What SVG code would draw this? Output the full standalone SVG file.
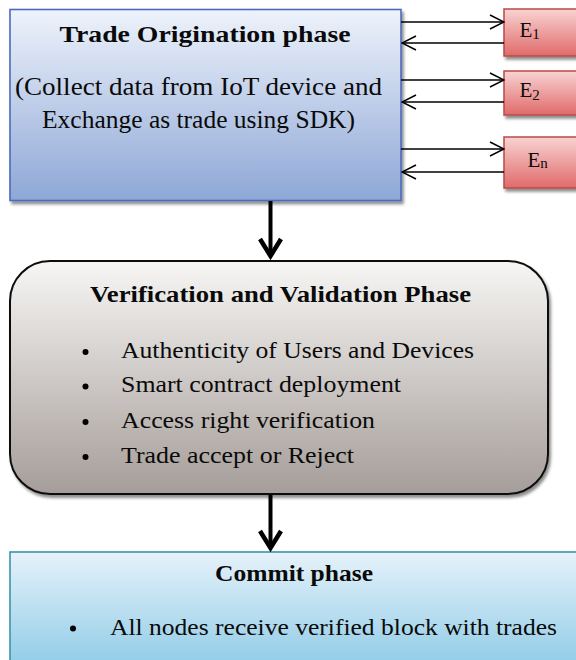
<svg xmlns="http://www.w3.org/2000/svg" width="576" height="660" viewBox="0 0 576 660" font-family="'Liberation Serif', 'Times New Roman', serif">
  <defs>
    <linearGradient id="gBlue" x1="0" y1="0" x2="0" y2="1">
      <stop offset="0" stop-color="#eef3fb"/>
      <stop offset="1" stop-color="#8ea7d6"/>
    </linearGradient>
    <linearGradient id="gGray" x1="0" y1="0" x2="0" y2="1">
      <stop offset="0" stop-color="#f7f6f4"/>
      <stop offset="1" stop-color="#a59d99"/>
    </linearGradient>
    <linearGradient id="gCyan" x1="0" y1="0" x2="0" y2="1">
      <stop offset="0" stop-color="#e6f2fa"/>
      <stop offset="1" stop-color="#8ccae6"/>
    </linearGradient>
    <linearGradient id="gRed" x1="0" y1="0" x2="0" y2="1">
      <stop offset="0" stop-color="#f9d3d3"/>
      <stop offset="1" stop-color="#e06a6a"/>
    </linearGradient>
    <filter id="shadow" x="-10%" y="-10%" width="125%" height="130%">
      <feGaussianBlur in="SourceAlpha" stdDeviation="1.5"/>
      <feOffset dx="1.5" dy="2.5" result="b"/>
      <feComponentTransfer><feFuncA type="linear" slope="0.45"/></feComponentTransfer>
      <feMerge><feMergeNode/><feMergeNode in="SourceGraphic"/></feMerge>
    </filter>
    <marker id="open" viewBox="0 0 16 16" refX="15" refY="8" markerWidth="16" markerHeight="16" markerUnits="userSpaceOnUse" orient="auto">
      <path d="M1,1 L15,8 L1,15" fill="none" stroke="#000" stroke-width="1.5"/>
    </marker>
  </defs>
  <style>
    text { fill: #0a0a0a; }
    .link { stroke: #000; stroke-width: 1.6; fill: none; }
    .flow { stroke: #000; stroke-width: 4; fill: none; }
    .head { stroke: #000; stroke-width: 4.5; fill: none; stroke-linejoin: miter; }
  </style>

  <rect width="576" height="660" fill="#ffffff"/>

  <!-- Trade origination -->
  <g id="origination">
    <rect x="10" y="9.5" width="391" height="191" fill="url(#gBlue)" stroke="#4a6bbd" stroke-width="1.6" filter="url(#shadow)"/>
    <text x="205" y="42" font-size="24" font-weight="bold" text-anchor="middle" textLength="291" lengthAdjust="spacingAndGlyphs">Trade Origination phase</text>
    <text x="198.5" y="95" font-size="25" text-anchor="middle" textLength="367" lengthAdjust="spacingAndGlyphs">(Collect data from IoT device and</text>
    <text x="198.5" y="128" font-size="25" text-anchor="middle" textLength="313" lengthAdjust="spacingAndGlyphs">Exchange as trade using SDK)</text>
  </g>

  <!-- Exchange nodes -->
  <g id="e1">
    <rect x="504" y="9" width="80" height="47" fill="url(#gRed)" stroke="#b94a48" stroke-width="1.5" filter="url(#shadow)"/>
    <text x="519.5" y="37" font-size="21">E<tspan font-size="15" dy="2">1</tspan></text>
  </g>
  <g id="e2">
    <rect x="504" y="71" width="80" height="44" fill="url(#gRed)" stroke="#b94a48" stroke-width="1.5" filter="url(#shadow)"/>
    <text x="519.5" y="97" font-size="21">E<tspan font-size="15" dy="2.5">2</tspan></text>
  </g>
  <g id="en">
    <rect x="504" y="137" width="80" height="51" fill="url(#gRed)" stroke="#b94a48" stroke-width="1.5" filter="url(#shadow)"/>
    <text x="527.5" y="167" font-size="21">E<tspan font-size="15" dy="1">n</tspan></text>
  </g>

  <!-- Verification and validation -->
  <g id="verification">
    <rect x="10" y="261" width="538" height="233" rx="40" ry="40" fill="url(#gGray)" stroke="#111" stroke-width="2" filter="url(#shadow)"/>
    <text x="280.5" y="302" font-size="24" font-weight="bold" text-anchor="middle" textLength="381" lengthAdjust="spacingAndGlyphs">Verification and Validation Phase</text>
    <circle cx="85.5" cy="352" r="3"/>
    <circle cx="85.5" cy="386.5" r="3"/>
    <circle cx="85.5" cy="422" r="3"/>
    <circle cx="85.5" cy="457" r="3"/>
    <text x="121" y="358" font-size="24" textLength="353" lengthAdjust="spacingAndGlyphs">Authenticity of Users and Devices</text>
    <text x="121" y="392" font-size="24" textLength="280" lengthAdjust="spacingAndGlyphs">Smart contract deployment</text>
    <text x="121" y="428" font-size="24" textLength="254" lengthAdjust="spacingAndGlyphs">Access right verification</text>
    <text x="121" y="463" font-size="24" textLength="233" lengthAdjust="spacingAndGlyphs">Trade accept or Reject</text>
  </g>

  <!-- Commit -->
  <g id="commit">
    <rect x="10" y="552" width="580" height="120" fill="url(#gCyan)" stroke="#3a95a8" stroke-width="1.6"/>
    <text x="294" y="581" font-size="24" font-weight="bold" text-anchor="middle" textLength="158" lengthAdjust="spacingAndGlyphs">Commit phase</text>
    <circle cx="73" cy="628.5" r="3"/>
    <text x="110" y="635" font-size="24" textLength="447" lengthAdjust="spacingAndGlyphs">All nodes receive verified block with trades</text>
  </g>

  <!-- Connectors -->
  <g id="connectors">
    <line class="link" x1="401" y1="22" x2="504" y2="22" marker-end="url(#open)"/>
    <line class="link" x1="504" y1="43" x2="402" y2="43" marker-end="url(#open)"/>
    <line class="link" x1="401" y1="80" x2="504" y2="80" marker-end="url(#open)"/>
    <line class="link" x1="504" y1="102" x2="402" y2="102" marker-end="url(#open)"/>
    <line class="link" x1="401" y1="149" x2="504" y2="149" marker-end="url(#open)"/>
    <line class="link" x1="504" y1="172" x2="402" y2="172" marker-end="url(#open)"/>

    <line class="flow" x1="270.5" y1="201" x2="270.5" y2="256"/>
    <path class="head" d="M260,239 L270.5,256 L281,239"/>
    <line class="flow" x1="270.5" y1="495" x2="270.5" y2="548"/>
    <path class="head" d="M260,531 L270.5,548 L281,531"/>
  </g>
</svg>
